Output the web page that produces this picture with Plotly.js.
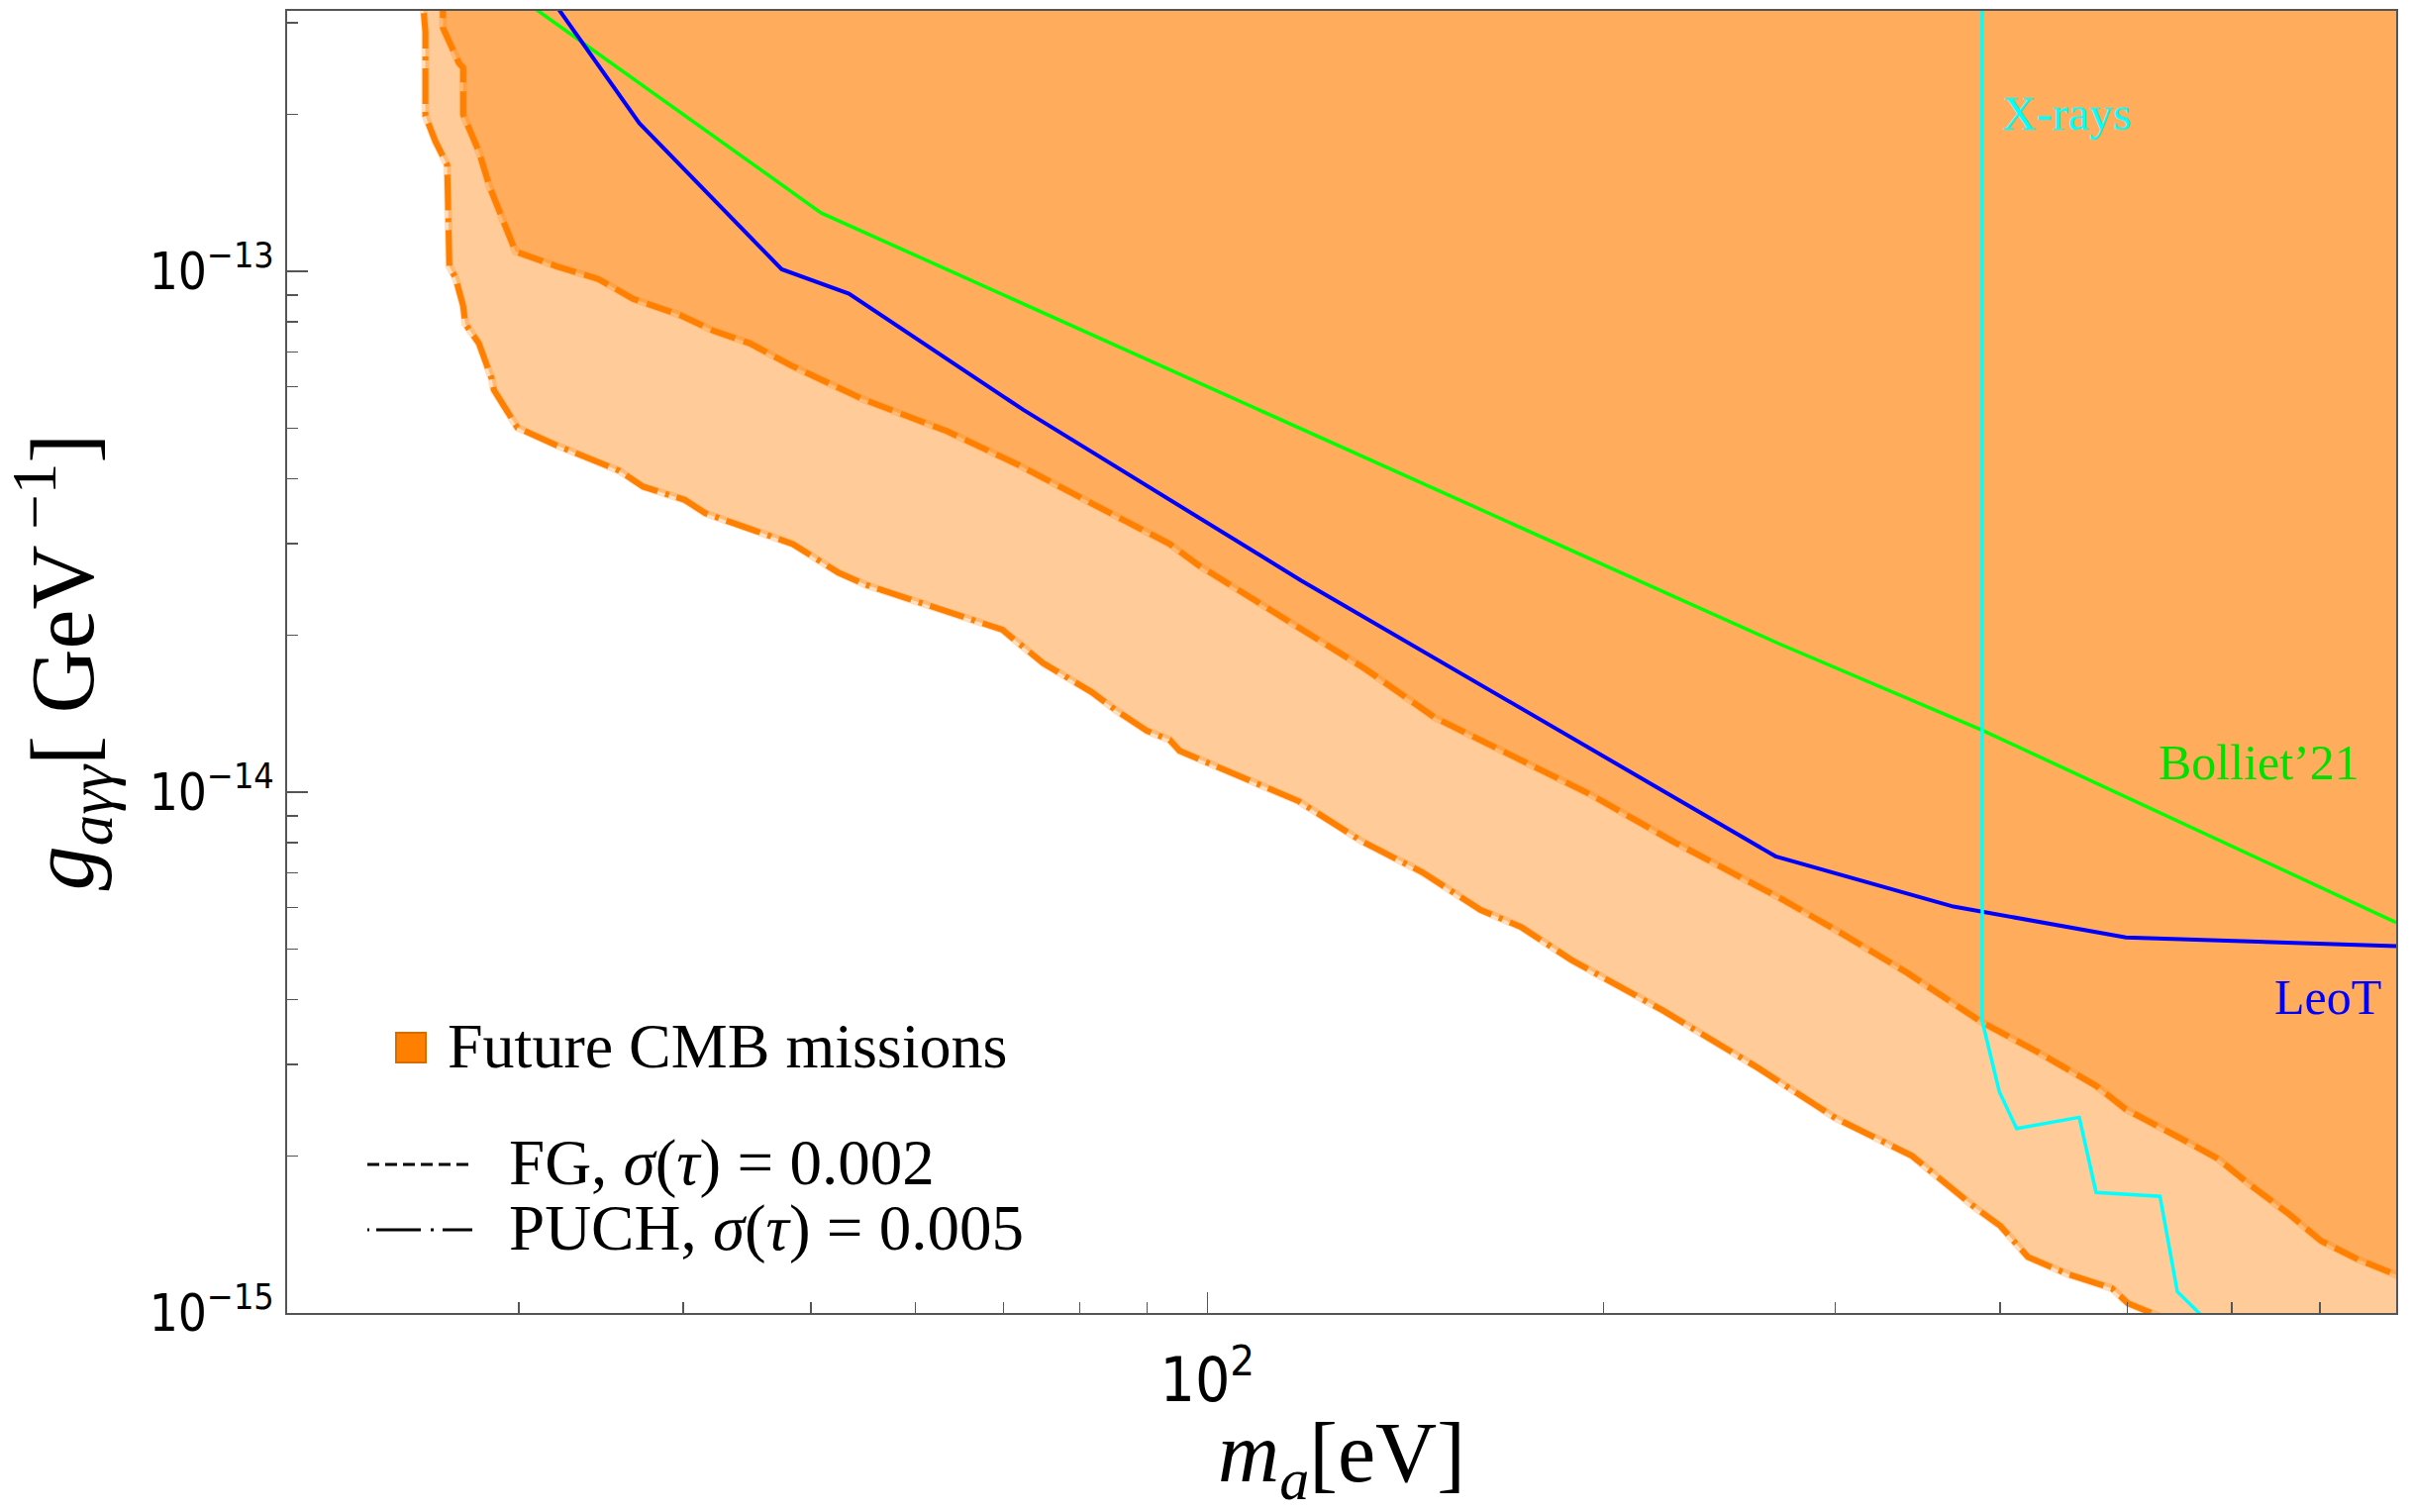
<!DOCTYPE html>
<html>
<head>
<meta charset="utf-8">
<script src="https://cdn.plot.ly/plotly-3.0.1.min.js"></script>
<style>html,body{margin:0;padding:0;background:#fff;}#plot{width:2435px;height:1527px;}</style>
</head>
<body>
<div id="plot"></div>
<script>
// ---- Data (axion mass in eV, coupling in GeV^-1) ----
// PUCH, sigma(tau)=0.005 boundary (outer, lighter region)
const puchMass = [25.2, 25.38, 25.47, 25.47, 25.91, 26.46, 26.56, 26.84, 27.21, 27.31, 27.97, 28.61, 28.71, 29.92, 32.06, 35.76, 37.27, 40.09, 41.58, 48.42, 52.44, 55.05, 69.87, 75.04, 81.66, 85.43, 89.99, 93.63, 95.26, 117.3, 131.0, 145.6, 161.3, 173.1, 189.1, 221.8, 262.3, 300.2, 343.0, 383.6, 400.4, 420.2, 451.0, 486.6, 500.3, 526.1, 543.5];
const puchG = [4e-13, 3.05e-13, 2.88e-13, 1.99e-13, 1.78e-13, 1.60e-13, 1.022e-13, 9.74e-14, 8.58e-14, 7.93e-14, 7.27e-14, 6.21e-14, 5.92e-14, 5.01e-14, 4.63e-14, 4.14e-14, 3.86e-14, 3.64e-14, 3.43e-14, 2.995e-14, 2.64e-14, 2.50e-14, 2.05e-14, 1.768e-14, 1.557e-14, 1.43e-14, 1.311e-14, 1.26e-14, 1.20e-14, 9.61e-15, 8.05e-15, 7.02e-15, 5.94e-15, 5.51e-15, 4.76e-15, 3.81e-15, 2.95e-15, 2.365e-15, 2.003e-15, 1.589e-15, 1.469e-15, 1.28e-15, 1.186e-15, 1.115e-15, 1.044e-15, 9.91e-16, 9.5e-16];
// FG, sigma(tau)=0.002 boundary (inner, darker region)
const fgMass = [26.23, 26.27, 27.01, 27.21, 27.21, 27.97, 28.50, 29.82, 32.06, 34.48, 36.64, 39.73, 42.15, 44.94, 48.25, 54.67, 63.44, 71.86, 81.94, 93.63, 98.62, 108.3, 114.4, 131.7, 148.9, 195.7, 225.6, 272.0, 300.8, 340.1, 386.6, 427.2, 473.3, 498.7, 555.2, 585.8, 619.0, 663.3, 701.2, 748.7, 798.5, 838];
const fgG = [4e-13, 2.93e-13, 2.51e-13, 2.46e-13, 2.00e-13, 1.697e-13, 1.453e-13, 1.091e-13, 1.022e-13, 9.66e-14, 8.85e-14, 8.25e-14, 7.69e-14, 7.27e-14, 6.60e-14, 5.69e-14, 4.93e-14, 4.25e-14, 3.57e-14, 2.995e-14, 2.72e-14, 2.353e-14, 2.148e-14, 1.727e-14, 1.39e-14, 9.88e-15, 8.05e-15, 6.27e-15, 5.42e-15, 4.50e-15, 3.63e-15, 3.17e-15, 2.73e-15, 2.46e-15, 2.13e-15, 1.977e-15, 1.765e-15, 1.548e-15, 1.376e-15, 1.266e-15, 1.186e-15, 1.125e-15];
// LeoT bound
const leotMass = [31.84, 37.03, 47.50, 53.43, 72.49, 117.9, 270.2, 368.8, 498.7, 800];
const leotG = [3.30e-13, 1.925e-13, 1.009e-13, 9.06e-14, 5.42e-14, 2.547e-14, 7.53e-15, 6.03e-15, 5.26e-15, 5.06e-15];
// Bolliet'21 bound
const bollietMass = [30.30, 50.91, 272.0, 387.3, 800];
const bollietG = [3.30e-13, 1.294e-13, 1.926e-14, 1.317e-14, 5.62e-15];
// X-rays bound
const xrayMass = [387.9, 387.9, 399.6, 411.9, 459.6, 473.3, 529.3, 545.6, 577.8];
const xrayG = [4e-13, 3.63e-15, 2.66e-15, 2.26e-15, 2.375e-15, 1.704e-15, 1.675e-15, 1.099e-15, 9.53e-16];

// Axis ticks
const xMajorTicks = [100];
const xMajorLabels = ['10<sup>2</sup>'];
const xMinorTicks = [30, 40, 50, 60, 70, 80, 90, 200, 300, 400, 500, 600, 700];
const yMajorTicks = [1e-15, 1e-14, 1e-13];
const yMajorLabels = ['10<sup>\u221215</sup>', '10<sup>\u221214</sup>', '10<sup>\u221213</sup>'];
const yMinorTicks = [2e-15, 3e-15, 4e-15, 5e-15, 6e-15, 7e-15, 8e-15, 9e-15, 2e-14, 3e-14, 4e-14, 5e-14, 6e-14, 7e-14, 8e-14, 9e-14, 2e-13, 3e-13];

const xRange = [20, 800];
const yRange = [1e-15, 10 ** -12.5];

// closed polygon: boundary then out-of-frame corners (bottom-right, top-right, top-left)
function closeRegion(mx, gy) {
  const farX = xRange[1] * 10, farYlow = yRange[0] / 10, farYhigh = yRange[1] * 10;
  return {
    x: mx.concat([farX, farX, mx[0]]),
    y: gy.concat([farYlow, farYhigh, farYhigh])
  };
}
const puchPoly = closeRegion(puchMass, puchG);
const fgPoly = closeRegion(fgMass, fgG);

const serif = 'Liberation Serif, Times New Roman, serif';
const sans = 'Liberation Sans Narrow, DejaVu Sans Condensed, Liberation Sans, Arial, sans-serif';

const traces = [
  {x: puchPoly.x, y: puchPoly.y, mode: 'lines', fill: 'toself', fillcolor: 'rgba(255,128,0,0.4)',
   line: {color: 'rgba(255,128,0,0.25)', width: 8}, hoverinfo: 'skip', showlegend: false},
  {x: fgPoly.x, y: fgPoly.y, mode: 'lines', fill: 'toself', fillcolor: 'rgba(255,128,0,0.4)',
   line: {color: 'rgba(255,128,0,0.25)', width: 8}, hoverinfo: 'skip', showlegend: false},
  {x: puchMass, y: puchG, mode: 'lines', line: {color: '#FF8000', width: 6, dash: '36px,8px,4px,8px'},
   name: 'PUCH', showlegend: false},
  {x: fgMass, y: fgG, mode: 'lines', line: {color: '#FF8000', width: 6, dash: '26px,9px'},
   name: 'FG', showlegend: false},
  {x: bollietMass, y: bollietG, mode: 'lines', line: {color: '#00FF00', width: 3.5}, name: "Bolliet'21", showlegend: false},
  {x: leotMass, y: leotG, mode: 'lines', line: {color: '#0000FF', width: 4}, name: 'LeoT', showlegend: false},
  {x: xrayMass, y: xrayG, mode: 'lines', line: {color: '#00FFFF', width: 3.5}, name: 'X-rays', showlegend: false}
];

// plot area in px: left 290, right 2420, top 11, bottom 1326
const L = 290, R = 2420, T = 11, B = 1326;
const px = X => (X - L) / (R - L);
const py = Y => (B - Y) / (B - T);

const layout = {
  width: 2435, height: 1527,
  margin: {l: L, r: 2435 - R, t: T, b: 1527 - B, pad: 0},
  paper_bgcolor: '#fff', plot_bgcolor: '#fff',
  showlegend: false,
  xaxis: {
    type: 'log', range: [Math.log10(xRange[0]), Math.log10(xRange[1])],
    tickmode: 'array', tickvals: xMajorTicks, ticktext: xMajorLabels,
    ticks: 'inside', ticklen: 21, tickwidth: 1.5, tickcolor: '#555',
    minor: {tickmode: 'array', tickvals: xMinorTicks, ticks: 'inside', ticklen: 11, tickwidth: 1.5, tickcolor: '#555', showgrid: false},
    showline: true, linecolor: '#555', linewidth: 2, mirror: true,
    showgrid: false, zeroline: false,
    tickfont: {family: sans, size: 62, color: '#000'},
    ticklabelstandoff: 13,
    title: {text: '<i>m</i><sub><i>a</i></sub>[eV]', font: {family: serif, size: 86, color: '#000'}, standoff: 50}
  },
  yaxis: {
    type: 'log', range: [Math.log10(yRange[0]), Math.log10(yRange[1])],
    tickmode: 'array', tickvals: yMajorTicks, ticktext: yMajorLabels,
    ticks: 'inside', ticklen: 21, tickwidth: 1.5, tickcolor: '#555',
    minor: {tickmode: 'array', tickvals: yMinorTicks, ticks: 'inside', ticklen: 11, tickwidth: 1.5, tickcolor: '#555', showgrid: false},
    showline: true, linecolor: '#555', linewidth: 2, mirror: true,
    showgrid: false, zeroline: false,
    tickfont: {family: sans, size: 51, color: '#000'},
    ticklabelstandoff: 1,
    title: {text: '<i>g</i><sub><i>a\u03b3\u03b3</i></sub>[ GeV<sup> \u22121</sup>]', font: {family: serif, size: 90, color: '#000'}, standoff: 30}
  },
  shapes: [
    {type: 'rect', xref: 'paper', yref: 'paper', x0: px(400), x1: px(430), y0: py(1073), y1: py(1043),
     fillcolor: '#FF8000', line: {color: '#D96C00', width: 2}},
    {type: 'line', xref: 'paper', yref: 'paper', x0: px(371), x1: px(479), y0: py(1176), y1: py(1176),
     line: {color: '#000', width: 3, dash: '12px,6px'}},
    {type: 'line', xref: 'paper', yref: 'paper', x0: px(371), x1: px(479), y0: py(1242), y1: py(1242),
     line: {color: '#000', width: 3, dash: '2px,7px,45px,10px,3px,9px,30px'}}
  ],
  annotations: [
    {xref: 'paper', yref: 'paper', x: px(450), y: py(1056), xanchor: 'left', yanchor: 'middle', showarrow: false,
     text: 'Future CMB missions', font: {family: serif, size: 64, color: '#000'}},
    {xref: 'paper', yref: 'paper', x: px(512), y: py(1174), xanchor: 'left', yanchor: 'middle', showarrow: false,
     text: 'FG, <i>\u03c3</i>(<i>\u03c4</i>) = 0.002', font: {family: serif, size: 65, color: '#000'}},
    {xref: 'paper', yref: 'paper', x: px(512), y: py(1240), xanchor: 'left', yanchor: 'middle', showarrow: false,
     text: 'PUCH, <i>\u03c3</i>(<i>\u03c4</i>) = 0.005', font: {family: serif, size: 65, color: '#000'}},
    {xref: 'x', yref: 'y', x: Math.log10(400), y: -12.696, xanchor: 'left', yanchor: 'middle', showarrow: false,
     text: 'X-rays', font: {family: serif, size: 48, color: '#00FFFF'}},
    {xref: 'x', yref: 'y', x: 2.8767, y: -13.943, xanchor: 'right', yanchor: 'middle', showarrow: false,
     text: 'Bolliet\u201921', font: {family: serif, size: 50, color: '#00E000'}},
    {xref: 'x', yref: 'y', x: 2.8932, y: -14.393, xanchor: 'right', yanchor: 'middle', showarrow: false,
     text: 'LeoT', font: {family: serif, size: 50, color: '#0000FF'}}
  ]
};

Plotly.newPlot('plot', traces, layout, {staticPlot: true, displayModeBar: false});
</script>
</body>
</html>
